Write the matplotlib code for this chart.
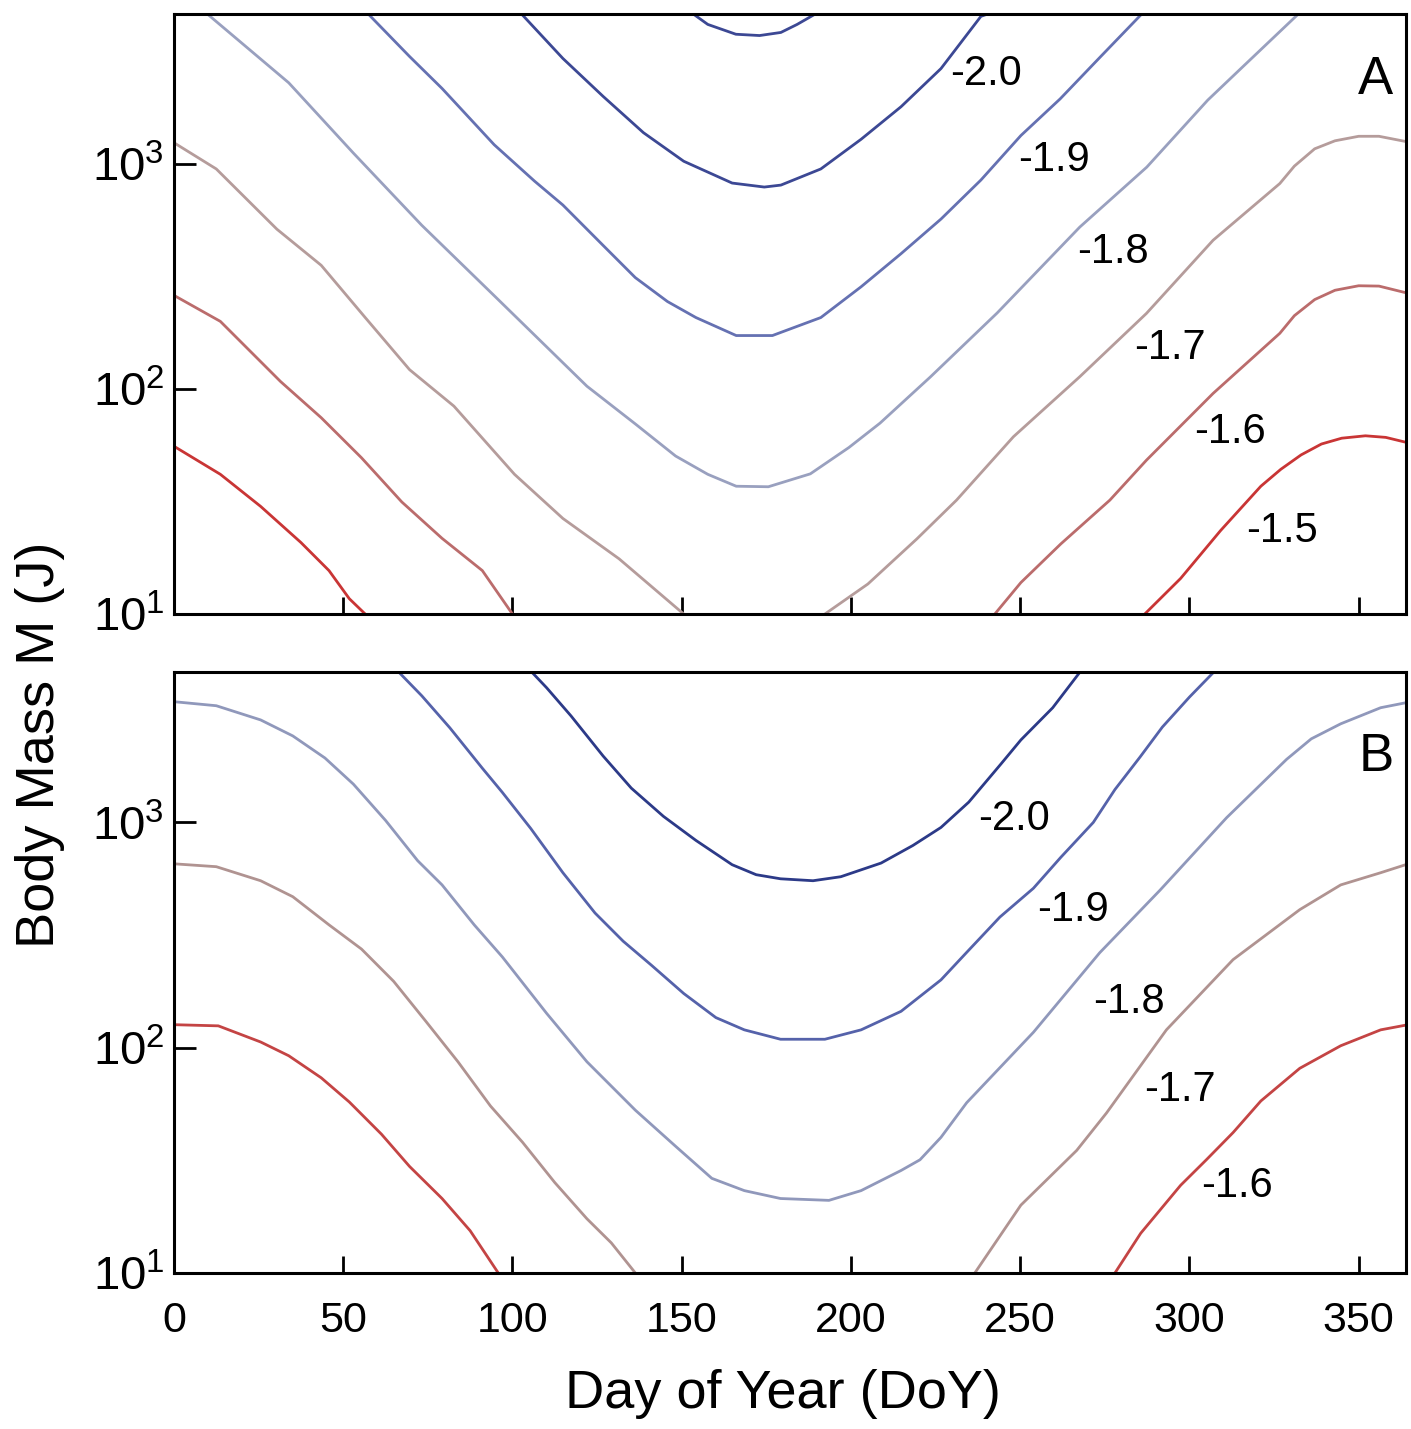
import matplotlib.pyplot as plt
from matplotlib.ticker import LogLocator, NullLocator

# ---- panel A : contour lines (day of year, body mass) ----
# -2.1, small cup at the top (no label)
a_m21_day = [153, 157.7, 166, 173, 179.3, 184.1, 190]
a_m21_mass = [4700, 4180, 3780, 3730, 3850, 4180, 4700]
# -2.0
a_m20_day = [102.4, 114.9, 126.8, 138.7, 150.6, 164.9, 174.4, 179.3, 191.1, 203.0,
             214.8, 226.6, 238.4, 241.3]
a_m20_mass = [4700, 2950, 2000, 1380, 1030, 824, 791, 807, 952, 1290,
              1800, 2660, 4540, 4700]
# -1.9
a_m19_day = [57.1, 69.6, 79.2, 94.6, 106.5, 114.9, 126.8, 136.3, 145.8, 154.2, 166.1,
             176.8, 191.1, 203, 214.8, 226.6, 238.4, 250.2, 261.8, 273.8, 286.2]
a_m19_mass = [4700, 3010, 2170, 1220, 841, 658, 435, 313, 245, 208, 173,
              173, 208, 285, 400, 570, 850, 1340, 1950, 3010, 4700]
# -1.8
a_m18_day = [9.5, 33.9, 53.0, 73.2, 95.2, 122.0, 136.3, 148.2, 157.7, 166.1, 175.6,
             188, 199.4, 208.6, 223.4, 243.2, 267.6, 287.4, 305.4, 315.2, 332.5]
a_m18_mass = [4700, 2300, 1120, 535, 255, 103, 70, 50.4, 41.8, 37.0, 36.8,
              42, 55, 70.6, 113, 218, 525, 970, 1925, 2660, 4700]
# -1.7 (leaves the bottom in summer, so two pieces)
a_m17_day_early = [0, 12.5, 30.4, 43.5, 56.5, 69.6, 82.7, 100.6, 114.9, 131.5, 150.6]
a_m17_mass_early = [1245, 952, 514, 355, 208, 122, 84, 41.8, 26.6, 17.6, 10]
a_m17_day_late = [192.3, 205, 219.5, 231.2, 248, 267.6, 287.3, 307, 326.7, 331,
                  337, 343, 350, 356, 364]
a_m17_mass_late = [10, 13.6, 21.6, 32.1, 61.4, 113.5, 217, 459, 820, 980,
                   1170, 1270, 1330, 1330, 1260]
# -1.6
a_m16_day_early = [0, 13.7, 31.5, 43.5, 55.4, 67.3, 79.2, 91.1, 100]
a_m16_mass_early = [261, 200, 108, 74.6, 49.5, 31.5, 21.7, 15.6, 10]
a_m16_day_late = [242.5, 250.2, 262, 276.5, 287.3, 307, 326.7, 331, 337, 343,
                  350, 356, 364]
a_m16_mass_late = [10, 13.8, 20.5, 32.1, 48.3, 95.7, 177, 212, 250, 275,
                   288, 287, 268]
# -1.5
a_m15_day_early = [0, 13.7, 25.6, 37.5, 45.8, 51.8, 56.5]
a_m15_mass_early = [55.7, 41.8, 30.1, 20.8, 15.6, 11.7, 10]
a_m15_day_late = [286.8, 297.4, 309.2, 321.1, 327, 333, 339, 345, 352, 358, 364]
a_m15_mass_late = [10, 14.4, 23.5, 37, 44, 51, 57, 60.5, 62, 61, 58]

# ---- panel B ----
b_m20_day = [105.4, 110.1, 117.3, 126.8, 135.1, 144.6, 154.2, 164.9, 172, 179.2,
             188.8, 197, 208.9, 218.3, 226.6, 234.8, 244.3, 250.2, 259.6, 267.9]
b_m20_mass = [4700, 3960, 2970, 1970, 1420, 1064, 832, 649, 586, 562,
              551, 574, 660, 790, 950, 1230, 1816, 2323, 3228, 4700]
b_m19_day = [66.1, 73.2, 81.5, 91.1, 97.0, 105.4, 114.9, 124.4, 132.7, 141.1, 150.6,
             160.1, 168.5, 179.2, 192.3, 203, 214.8, 226.6, 234.2, 244, 253.9, 262,
             271.6, 278, 285.4, 292, 300, 307.5]
b_m19_mass = [4700, 3650, 2630, 1740, 1360, 940, 598, 396, 297, 232, 174,
              136, 120, 109, 109, 120, 145, 200, 265, 380, 510, 700,
              1000, 1400, 1950, 2650, 3600, 4700]
b_m18_day = [0, 12.5, 25.6, 35.1, 44.6, 53.0, 62.5, 72.0, 79.2, 88.7, 97.0, 110.1,
             122.0, 136.3, 148.2, 158.9, 168.5, 179.2, 193.5, 203, 214.8, 220.4,
             226.6, 234.2, 253.9, 273.5, 291.3, 311, 328.7, 336, 344.7, 356.5, 364]
b_m18_mass = [3435, 3296, 2851, 2421, 1932, 1479, 1021, 676, 528, 351, 253, 142,
              86.6, 52.8, 36.5, 26.3, 23.2, 21.4, 21.0, 23.2, 28.5, 31.8,
              40, 57, 117, 264, 500, 1050, 1905, 2350, 2740, 3230, 3400]
b_m17_day_early = [0, 12.5, 25.6, 35.1, 45.8, 55.4, 64.9, 74.4, 83.9, 93.5, 103,
                   112.5, 122, 129.2, 136.3]
b_m17_mass_early = [655, 636, 551, 468, 351, 274, 197, 131, 86.6, 55.1, 38,
                    25.2, 17.4, 13.6, 10]
b_m17_day_late = [236.6, 250.2, 266.7, 275.5, 293.2, 312.9, 332.6, 344.7, 356.5, 364]
b_m17_mass_late = [10, 20, 35, 51.3, 120, 246, 410, 528, 598, 650]
b_m16_day_early = [0, 13.1, 25.6, 33.9, 43.5, 51.8, 61.3, 69.6, 79.2, 87.5, 92.3, 95.8]
b_m16_mass_early = [126.5, 125, 106, 92.1, 73.5, 57.4, 41.3, 29.7, 21.4, 15.4, 12.0, 10]
b_m16_day_late = [278, 285.6, 297.4, 305, 312.9, 321.1, 332.6, 344.7, 356.5, 364]
b_m16_mass_late = [10, 15, 24.5, 31.8, 42, 58, 81, 102, 120, 126]

# contour level labels
a_levels = ["-2.0", "-1.9", "-1.8", "-1.7", "-1.6", "-1.5"]
b_levels = ["-2.0", "-1.9", "-1.8", "-1.7", "-1.6"]

# colours
c_m21 = "#3c4894"
c_m20 = "#3c4894"
c_m19 = "#6571b2"
c_m18 = "#99a0bf"
c_m17 = "#b59c9b"
c_m16 = "#bb6c6c"
c_m15 = "#c93535"
cb_m20 = "#2c3a88"
cb_m19 = "#5562aa"
cb_m18 = "#9098bb"
cb_m17 = "#b09391"
cb_m16 = "#c44444"

# label positions (day, mass)
a_lab_pos = [(239.8, 2506), (260.0, 1042), (277.5, 407), (294.2, 152), (311.9, 64.5), (327.3, 23.4)]
b_lab_pos = [(248.2, 1031), (265.7, 410), (282.2, 159), (297.2, 65), (314.2, 24.4)]

plt.rcParams['font.family'] = ['Liberation Sans', 'DejaVu Sans']
plt.rcParams['mathtext.fontset'] = 'custom'
plt.rcParams['mathtext.rm'] = 'Liberation Sans'

fig = plt.figure(figsize=(14.11, 14.29), dpi=100)
axA = fig.add_axes([0.1233, 0.5703, 0.8732, 0.4199])
axB = fig.add_axes([0.1233, 0.1092, 0.8732, 0.4205])

lw = 2.0
axA.plot(a_m21_day, a_m21_mass, color=c_m21, lw=lw)
axA.plot(a_m20_day, a_m20_mass, color=c_m20, lw=lw)
axA.plot(a_m19_day, a_m19_mass, color=c_m19, lw=lw)
axA.plot(a_m18_day, a_m18_mass, color=c_m18, lw=lw)
axA.plot(a_m17_day_early, a_m17_mass_early, color=c_m17, lw=lw)
axA.plot(a_m17_day_late, a_m17_mass_late, color=c_m17, lw=lw)
axA.plot(a_m16_day_early, a_m16_mass_early, color=c_m16, lw=lw)
axA.plot(a_m16_day_late, a_m16_mass_late, color=c_m16, lw=lw)
axA.plot(a_m15_day_early, a_m15_mass_early, color=c_m15, lw=lw)
axA.plot(a_m15_day_late, a_m15_mass_late, color=c_m15, lw=lw)

axB.plot(b_m20_day, b_m20_mass, color=cb_m20, lw=lw)
axB.plot(b_m19_day, b_m19_mass, color=cb_m19, lw=lw)
axB.plot(b_m18_day, b_m18_mass, color=cb_m18, lw=lw)
axB.plot(b_m17_day_early, b_m17_mass_early, color=cb_m17, lw=lw)
axB.plot(b_m17_day_late, b_m17_mass_late, color=cb_m17, lw=lw)
axB.plot(b_m16_day_early, b_m16_mass_early, color=cb_m16, lw=lw)
axB.plot(b_m16_day_late, b_m16_mass_late, color=cb_m16, lw=lw)

for lab, (d, m) in zip(a_levels, a_lab_pos):
    axA.text(d, m, lab, fontsize=30, ha="center", va="center")
for lab, (d, m) in zip(b_levels, b_lab_pos):
    axB.text(d, m, lab, fontsize=30, ha="center", va="center")

axA.text(0.975, 0.89, "A", transform=axA.transAxes, fontsize=38, ha="center", va="center")
axB.text(0.976, 0.859, "B", transform=axB.transAxes, fontsize=38, ha="center", va="center")

for ax in (axA, axB):
    ax.set_yscale("log")
    ax.set_xlim(0, 364)
    ax.set_ylim(10, 4650)
    ax.set_xticks(range(0, 351, 50))
    ax.yaxis.set_major_locator(LogLocator(base=10, numticks=10))
    ax.yaxis.set_minor_locator(NullLocator())
    ax.tick_params(direction="in", width=2, top=False, right=False)
    ax.tick_params(axis="y", length=16, pad=7, labelsize=34)
    ax.tick_params(axis="x", length=12, pad=20, labelsize=31)
    for s in ax.spines.values():
        s.set_linewidth(2.2)

axA.tick_params(axis="x", labelbottom=False)

fig.text(783 / 1411, 0.0245, "Day of Year (DoY)", fontsize=39, ha="center", va="center")
fig.text(0.0283, 0.4787, "Body Mass M (J)", fontsize=39, rotation=90, ha="center", va="center")

fig.savefig("out.png", dpi=100)
